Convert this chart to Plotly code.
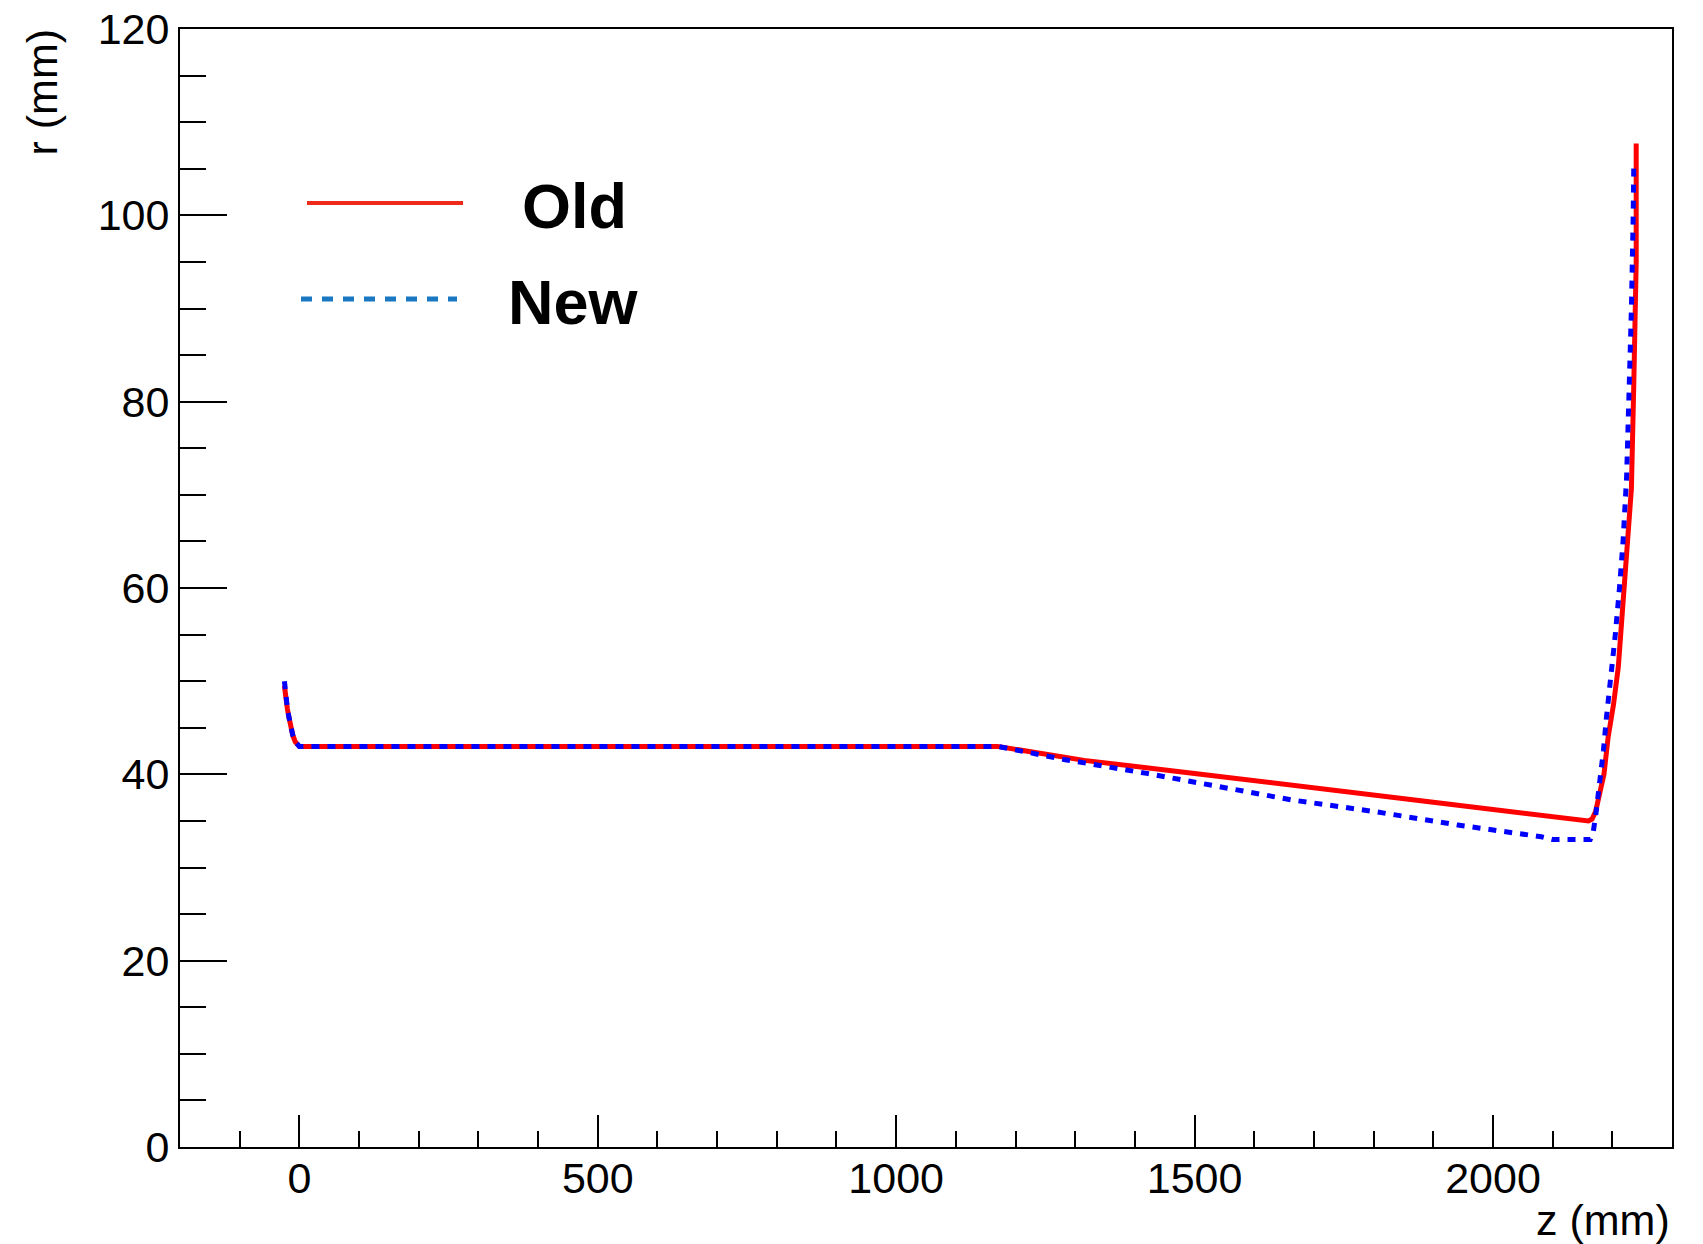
import plotly.graph_objects as go

# ---- data (z in mm, r in mm) ----
old_z = [-25, -23, -20, -17, -14, -11, -7, -3, 0, 1170, 1315, 1500, 1649, 1900, 2160,
         2166, 2172, 2180, 2186, 2193, 2202, 2210, 2215, 2221, 2227, 2232, 2236, 2240, 2240]
old_r = [49.5, 48.3, 47, 46, 45, 44.2, 43.5, 43.1, 43, 43, 41.5, 40.1, 38.9, 37.0, 35.0,
         35.2, 36, 38, 40, 44, 47.5, 51.5, 55.7, 60.3, 65.5, 70.7, 82, 95, 107.7]

new_z = [-25, -23, -20, -17, -14, -11, -7, -3, 0, 1170, 1281, 1420, 1524, 1663, 1802, 1941,
         2081, 2100, 2163, 2168, 2172, 2176, 2180, 2185, 2190, 2197, 2205, 2212, 2218, 2224,
         2228, 2232, 2235, 2236]
new_r = [50, 48.5, 47, 46, 45, 44.2, 43.5, 43.1, 43, 43, 41.6, 40.1, 38.85, 37.25, 36.0, 34.56,
         33.3, 33.0, 33.0, 33.8, 35.5, 37.5, 39.5, 42.5, 46, 50, 55, 60, 65, 72,
         80, 90, 100, 105.5]

x_range = [-200, 2300]
y_range = [0, 120]
x_ticks = [0, 500, 1000, 1500, 2000]
y_ticks = [0, 20, 40, 60, 80, 100, 120]
legend_labels = ["Old", "New"]

# ---- layout geometry (pixels) ----
W, H = 1703, 1244
L, R, T, B = 180, 1672, 29, 1147
PW, PH = R - L, B - T


def px(x):
    return (x - L) / PW


def py(y):
    return (B - y) / PH


FONT = "Liberation Sans, Arial, Helvetica, sans-serif"

fig = go.Figure()
fig.add_trace(go.Scatter(x=old_z, y=old_r, mode="lines", name=legend_labels[0],
                         line=dict(color="#ff0000", width=5), showlegend=False))
fig.add_trace(go.Scatter(x=new_z, y=new_r, mode="lines", name=legend_labels[1],
                         line=dict(color="#0000ff", width=5, dash="8px,8px"), showlegend=False))

axis_common = dict(showgrid=False, zeroline=False, showline=True, linecolor="black",
                   linewidth=2, mirror=True, ticks="inside", tickcolor="black",
                   automargin=False,
                   tickfont=dict(family=FONT, size=43, color="black"))

fig.update_xaxes(range=x_range, tickmode="array", tickvals=x_ticks,
                 ticktext=[str(v) for v in x_ticks], ticklen=32, tickwidth=1.5,
                 ticklabelstandoff=-8,
                 minor=dict(dtick=100, tick0=0, ticks="inside", ticklen=16, tickwidth=1.5,
                            tickcolor="black"),
                 **axis_common)
fig.update_yaxes(range=y_range, tickmode="array", tickvals=y_ticks,
                 ticktext=[str(v) for v in y_ticks], ticklen=47, tickwidth=2,
                 minor=dict(dtick=5, tick0=0, ticks="inside", ticklen=26, tickwidth=2,
                            tickcolor="black"),
                 **axis_common)

shapes = [
    dict(type="line", xref="paper", yref="paper", x0=px(307), x1=px(463), y0=py(203), y1=py(203),
         line=dict(color="#ee2a1b", width=4)),
    dict(type="line", xref="paper", yref="paper", x0=px(301), x1=px(457), y0=py(299), y1=py(299),
         line=dict(color="#1a78c2", width=5, dash="11px,10px")),
]

annotations = [
    dict(text="<b>Old</b>", xref="paper", yref="paper", x=px(520), y=py(206), xanchor="left",
         yanchor="middle", showarrow=False,
         font=dict(family=FONT, size=63, color="black")),
    dict(text="<b>New</b>", xref="paper", yref="paper", x=px(506), y=py(302), xanchor="left",
         yanchor="middle", showarrow=False,
         font=dict(family=FONT, size=63, color="black")),
    dict(text="r (mm)", xref="paper", yref="paper", x=px(41), y=py(27), xanchor="center",
         yanchor="top", textangle=-90, showarrow=False,
         font=dict(family=FONT, size=43, color="black")),
    dict(text="z (mm)", xref="paper", yref="paper", x=px(1672), y=py(1220), xanchor="right",
         yanchor="middle", showarrow=False,
         font=dict(family=FONT, size=43, color="black")),
]

fig.update_layout(width=W, height=H, margin=dict(l=L, r=W - R, t=T, b=H - B),
                  paper_bgcolor="white", plot_bgcolor="white",
                  shapes=shapes, annotations=annotations, showlegend=False)

fig.write_html("out.html")
